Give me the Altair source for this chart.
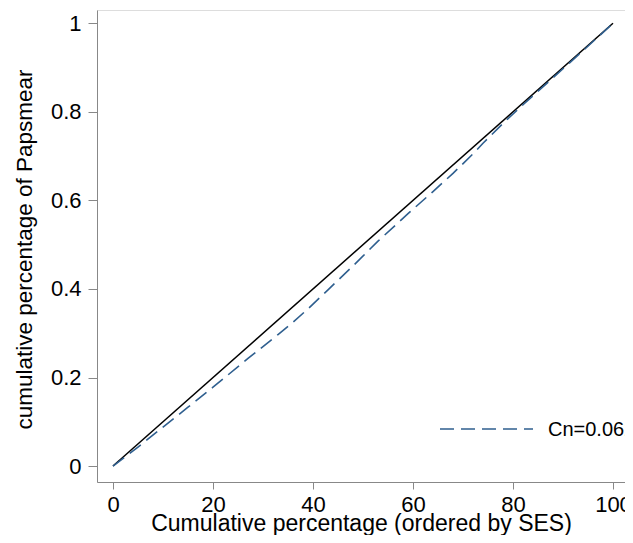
import altair as alt
import pandas as pd

# Concentration curve (cumulative % ordered by SES vs cumulative share of Papsmear)
pct = [0, 5, 10, 15, 20, 27, 30, 33, 36, 39, 43, 48, 53, 59, 64, 68, 72, 74, 78, 82, 88, 94, 100]
cum = [0, 0.043, 0.088, 0.133, 0.178, 0.243, 0.27, 0.297, 0.325, 0.355, 0.398, 0.452,
       0.508, 0.57, 0.62, 0.661, 0.705, 0.729, 0.774, 0.816, 0.877, 0.938, 1.0]

# Line of equality
eq_x = [0, 100]
eq_y = [0, 1]

legend_labels = ["Cn=0.062"]
x_ticks = [0, 20, 40, 60, 80, 100]
y_ticks = [0, 0.2, 0.4, 0.6, 0.8, 1]

FONT = "Liberation Sans"
CURVE_COLOR = "#2f5f8f"

curve_df = pd.DataFrame({"x": pct, "y": cum})
eq_df = pd.DataFrame({"x": eq_x, "y": eq_y})
leg_df = pd.DataFrame({"label": legend_labels})

xscale = alt.Scale(domain=[-3.2, 102.4], nice=False, zero=False)
yscale = alt.Scale(domain=[-0.036, 1.03], nice=False, zero=False)

xaxis = alt.Axis(
    values=x_ticks, format="d", title="Cumulative percentage (ordered by SES)",
    tickSize=7, labelPadding=5, labelFontSize=22, titleFontSize=23,
    labelFontWeight="normal", titleFontWeight="normal",
    titleBaseline="alphabetic", titleY=48.5, titleAlign="center", grid=False,
)
yaxis = alt.Axis(
    values=y_ticks, format="~g", title="cumulative percentage of Papsmear",
    tickSize=9, labelPadding=7, labelFontSize=22, titleFontSize=22.5,
    labelFontWeight="normal", titleFontWeight="normal",
    titleAngle=270, titleBaseline="alphabetic", titleX=-65.5, titleY=239,
    titleAlign="center", grid=False,
)

eq_line = alt.Chart(eq_df).mark_line(color="black", strokeWidth=1.5).encode(
    x=alt.X("x:Q", scale=xscale, axis=xaxis),
    y=alt.Y("y:Q", scale=yscale, axis=yaxis),
)

curve = alt.Chart(curve_df).mark_line(
    color=CURVE_COLOR, strokeWidth=1.6, strokeDash=[14, 7]
).encode(
    x=alt.X("x:Q", scale=xscale),
    y=alt.Y("y:Q", scale=yscale),
)

# Legend (drawn manually, Stata style, inside plot region)
leg_line = alt.Chart(leg_df).mark_rule(
    color=CURVE_COLOR, strokeWidth=1.6, strokeDash=[14, 7]
).encode(x=alt.value(343), x2=alt.value(436), y=alt.value(419))

leg_text = alt.Chart(leg_df).mark_text(
    align="left", baseline="middle", font=FONT, fontSize=20, color="black"
).encode(x=alt.value(451), y=alt.value(420), text="label:N")

chart = alt.layer(eq_line, curve, leg_line, leg_text).properties(
    width=528, height=472,
    autosize=alt.AutoSizeParams(type="none"),
    padding={"left": 89, "top": 2, "right": 0, "bottom": 53},
).configure_view(strokeWidth=0).configure_axis(
    domainColor="black", domainWidth=1.5, tickColor="black", tickWidth=1.5,
    labelColor="black", titleColor="black", labelFont=FONT, titleFont=FONT,
    titleFontWeight="normal",
).configure(background="white")

chart.save("out.html", embed_options={"renderer": "svg", "actions": False})
